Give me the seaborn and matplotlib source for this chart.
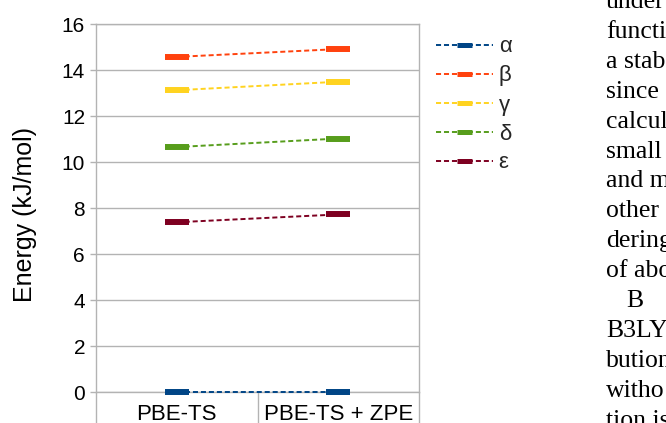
import matplotlib
matplotlib.use("Agg")
import matplotlib.pyplot as plt
from matplotlib.lines import Line2D
import pandas as pd
import seaborn as sns

# Relative lattice energies of the polymorphs
methods = ["PBE-TS", "PBE-TS + ZPE"]
forms = ["α", "β", "γ", "δ", "ε"]
energy_pbe_ts = [0.0, 14.57, 13.12, 10.65, 7.38]
energy_pbe_ts_zpe = [0.0, 14.91, 13.49, 11.02, 7.72]
colors = ["#004586", "#ff420e", "#ffd320", "#579d1c", "#7e0021"]
y_ticks = [0, 2, 4, 6, 8, 10, 12, 14, 16]
y_label = "Energy (kJ/mol)"

# Neighbouring column of body text on the page
page_lines = ["under", "functi", "a stab", "since", "calcul", "small", "and m",
              "other", "dering", "of abo", "B", "B3LY", "bution", "witho", "tion is"]

sns.set_theme(style="white")
plt.rcParams["font.family"] = ["Liberation Sans", "DejaVu Sans"]

W, H = 666, 423
fig = plt.figure(figsize=(W / 100, H / 100), dpi=100)
ax = fig.add_axes([96 / W, 1 - 392 / H, (419 - 96) / W, (392 - 24) / H])

df = pd.DataFrame({
    "method": methods * len(forms),
    "energy": [v for pair in zip(energy_pbe_ts, energy_pbe_ts_zpe) for v in pair],
    "form": [f for f in forms for _ in methods],
})

grid_c = "#b3b3b3"
ax.set_axisbelow(True)
ax.grid(axis="y", color=grid_c, lw=1.0)
ax.grid(axis="x", visible=False)

sns.lineplot(data=df, x="method", y="energy", hue="form", hue_order=forms,
             palette=colors, marker="_", markersize=16.6, markeredgewidth=4.3,
             linewidth=1.4, legend=False, sort=False, ax=ax)
for ln, c in zip(ax.lines, colors):
    ln.set_dashes((2.6, 1.5))
    ln.set_markeredgecolor(c)
    ln.set_clip_on(False)
    ln.set_zorder(3)

ax.set_xlim(-0.5, 1.5)
ax.set_ylim(0, 16)
ax.set_yticks(y_ticks)
ax.set_yticklabels([str(t) for t in y_ticks])
ax.tick_params(axis="y", which="major", length=4.3, width=1.0, color=grid_c,
               pad=3.6, labelsize=15, labelcolor="black", left=True)
ax.set_xticks([0, 1])
ax.set_xticklabels(methods)
ax.set_xticks([-0.5, 0.5, 1.5], minor=True)
ax.tick_params(axis="x", which="major", length=0, pad=8.5, labelsize=16,
               labelcolor="black")
ax.tick_params(axis="x", which="minor", length=40, width=1.0, color=grid_c,
               bottom=True, direction="out")
ax.set_xlabel("")
ax.set_ylabel(y_label, fontsize=18, color="black")
ax.yaxis.set_label_coords(-0.183, 0.481)

for side in ["left", "right", "top", "bottom"]:
    ax.spines[side].set_visible(True)
    ax.spines[side].set_color(grid_c)
    ax.spines[side].set_linewidth(1.0)

handles = [Line2D([0], [0], color=c, lw=1.4, dashes=(2.6, 1.5), marker="_",
                  markersize=10.8, markeredgewidth=3.6, markeredgecolor=c)
           for c in colors]
fig.legend(handles, forms, loc="upper left",
           bbox_to_anchor=(436 / W, 1 - 36.5 / H), bbox_transform=fig.transFigure,
           frameon=False, fontsize=16, handlelength=2.55, handletextpad=0.27,
           labelspacing=0.36, borderpad=0, borderaxespad=0)

for i, txt in enumerate(page_lines):
    x = 626 if txt == "B" else 606
    y = 8 + i * 29.9
    fig.text(x / W, 1 - y / H, txt, family=["Liberation Serif", "DejaVu Serif"],
             fontsize=18.5, va="baseline", ha="left", color="black")

fig.savefig("out.png", dpi=100)
